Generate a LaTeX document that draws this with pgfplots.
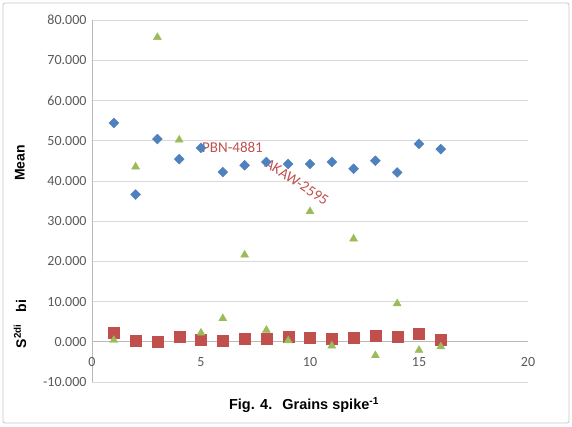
\documentclass[border=0pt]{standalone}
\usepackage{pgfplots}
\pgfplotsset{compat=1.18}
\usepackage{fontspec}
\setmainfont{Liberation Sans}
\newfontfamily\calib{Carlito}
\definecolor{cblue}{HTML}{4F81BD}
\definecolor{cred}{HTML}{C0504D}
\definecolor{cgreen}{HTML}{9BBB59}
\definecolor{gridc}{HTML}{D9D9D9}
\definecolor{tickc}{HTML}{595959}
\begin{document}
\begin{tikzpicture}
\path[use as bounding box] (-92pt,-44pt) rectangle (480pt,382pt);
\draw[gray!45, rounded corners=2pt, line width=0.8pt] (-89pt,-41pt) rectangle (477pt,379pt);
\begin{axis}[
  scale only axis, width=436pt, height=362pt,
  xmin=0, xmax=20, ymin=-10, ymax=80,
  axis x line*=middle, axis y line*=left,
  xtick={0,5,10,15,20}, ytick={-10,0,10,20,30,40,50,60,70,80},
  ymajorgrids, grid style={gridc, line width=0.6pt},
  axis line style={gray!55, line width=0.6pt},
  major tick length=0pt,
  hide obscured x ticks=false, hide obscured y ticks=false,
  /pgf/number format/assume math mode=true,
  ticklabel style={font=\calib\fontsize{14}{15}\selectfont, text=tickc},
  xticklabel style={yshift=-12pt},
  yticklabel style={/pgf/number format/fixed, /pgf/number format/fixed zerofill, /pgf/number format/precision=3, xshift=-2pt},
  clip=false,
]
\addplot[only marks, mark=square*, mark size=3.5pt, mark options={rotate=45, fill=cblue, draw=cblue}] coordinates {
(1,54.4) (2,36.6) (3,50.4) (4,45.4) (5,48.2) (6,42.2) (7,43.9) (8,44.7)
(9,44.2) (10,44.2) (11,44.7) (12,43.0) (13,45.0) (14,42.1) (15,49.2) (16,47.9)};
\addplot[only marks, mark=square*, mark size=5.5pt, mark options={fill=cred, draw=cred}] coordinates {
(1,2.2) (2,0.2) (3,-0.1) (4,1.2) (5,0.4) (6,0.15) (7,0.7) (8,0.8)
(9,1.3) (10,1.1) (11,0.7) (12,1.0) (13,1.5) (14,1.2) (15,1.9) (16,0.4)};
\addplot[only marks, mark=triangle*, mark size=4.6pt, mark options={fill=cgreen, draw=cgreen}] coordinates {
(1,0.4) (2,43.5) (3,75.7) (4,50.2) (5,2.2) (6,5.8) (7,21.6) (8,2.9)
(9,0.3) (10,32.4) (11,-1.0) (12,25.6) (13,-3.4) (14,9.5) (15,-2.1) (16,-1.2)};
\node[anchor=west, inner sep=0pt, xshift=1pt, text=cred, font=\calib\fontsize{15}{16}\selectfont] at (axis cs:5,48.2) {PBN-4881};
\node[anchor=west, inner sep=0pt, rotate=-33, text=cred, font=\calib\fontsize{15}{16}\selectfont] at (axis cs:8,44.7) {AKAW-2595};
\end{axis}
\node[rotate=90, font=\bfseries\fontsize{14}{16}\selectfont] at (-72pt,219pt) {Mean};
\node[rotate=90, font=\bfseries\fontsize{14}{16}\selectfont] at (-72pt,58pt) {S\textsuperscript{2di}\hspace{12pt}bi};
\node[font=\bfseries\fontsize{14.5}{16}\selectfont] at (212pt,-23pt) {Fig. 4.\hspace{10pt}Grains spike\textsuperscript{-1}};
\end{tikzpicture}
\end{document}
